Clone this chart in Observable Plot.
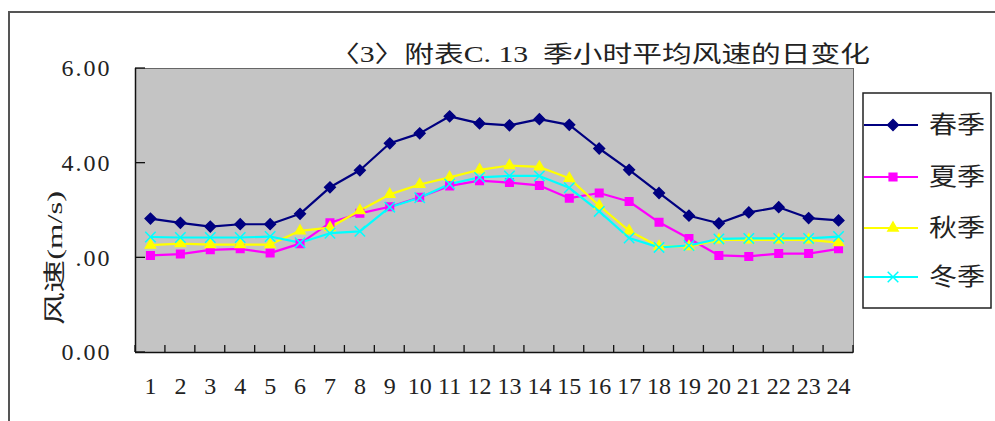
<!DOCTYPE html>
<html><head><meta charset="utf-8">
<script src="https://cdn.jsdelivr.net/npm/d3@7"></script>
<script src="https://cdn.jsdelivr.net/npm/@observablehq/plot@0.6"></script>
<style>
html,body{margin:0;padding:0;background:#fff;}
#chart{position:relative;width:995px;height:421px;}
</style>
</head><body>
<div id="chart"></div>
<script>
const hours = [1,2,3,4,5,6,7,8,9,10,11,12,13,14,15,16,17,18,19,20,21,22,23,24];
const seriesNames = ["春季","夏季","秋季","冬季"];
const spring = [2.83,2.74,2.66,2.71,2.71,2.93,3.49,3.85,4.42,4.63,4.99,4.84,4.80,4.93,4.81,4.31,3.86,3.37,2.89,2.73,2.96,3.07,2.84,2.79];
const summer = [2.05,2.08,2.17,2.19,2.10,2.30,2.74,2.94,3.08,3.28,3.52,3.63,3.59,3.53,3.26,3.37,3.19,2.75,2.41,2.05,2.03,2.09,2.09,2.19];
const autumn = [2.27,2.30,2.28,2.28,2.28,2.57,2.64,3.00,3.34,3.55,3.70,3.86,3.95,3.92,3.68,3.10,2.57,2.24,2.24,2.38,2.38,2.38,2.38,2.32];
const winter = [2.44,2.43,2.43,2.43,2.45,2.32,2.52,2.56,3.07,3.27,3.56,3.70,3.73,3.73,3.48,2.98,2.42,2.22,2.26,2.40,2.41,2.41,2.41,2.45];
const yTicks = [0,2,4,6];
const titleText = "〈3〉附表C. 13  季小时平均风速的日变化";
const yLabel = "风速(m/s)";

const colors = {"春季":"#000080","夏季":"#ff00ff","秋季":"#ffff00","冬季":"#00ffff"};
const symbols = {"春季":"diamond2","夏季":"square2","秋季":"triangle2","冬季":"times"};
const seriesValues = [spring, summer, autumn, winter];
const rows = [];
seriesNames.forEach((s,i)=>hours.forEach((h,j)=>rows.push({series:s, hour:h, value:seriesValues[i][j]})));
const boundaries = [0.5, ...hours.map(h=>h+0.5)];

const FONT = "'Liberation Serif','Noto Sans CJK SC',serif";

const chart = Plot.plot({
  width: 995, height: 421,
  marginLeft: 135, marginRight: 142, marginTop: 68, marginBottom: 69,
  style: {fontFamily: FONT, fontSize: "22px", background: "white", color: "#222", overflow: "visible"},
  x: {domain: [0.5, 24.5]},
  y: {domain: [0, 6]},
  color: {domain: seriesNames, range: seriesNames.map(s=>colors[s])},
  symbol: {domain: seriesNames, range: seriesNames.map(s=>symbols[s])},
  marks: [
    Plot.frame({fill: "#c4c4c4", stroke: "#666"}),
    Plot.axisY({ticks: yTicks, tickFormat: d=>d.toFixed(2), tickSize: 0, tickPadding: 24, fontSize: 24, label: null, className: "ylab"}),
    Plot.axisX({ticks: hours, tickFormat: d=>String(d), tickSize: 0, tickPadding: 24, fontSize: 24, label: null}),
    Plot.ruleX([0.5], {stroke: "#111", strokeWidth: 1.5}),
    Plot.ruleY([0], {stroke: "#111", strokeWidth: 1.5}),
    Plot.lineY(rows, {x: "hour", y: "value", z: "series", stroke: "series", strokeWidth: 2.2}),
    Plot.dot(rows, {x: "hour", y: "value", symbol: "series", fill: "series", stroke: "series", r: 4.8, strokeWidth: 1.5})
  ]
});
document.getElementById("chart").appendChild(chart);

const svg = d3.select(chart);
svg.selectAll(".ylab text").style("letter-spacing","2px");
const xs = chart.scale("x"), ys = chart.scale("y");
const x0 = xs.apply(0.5), y0 = ys.apply(0);
// inward tick marks on the x axis at category boundaries
boundaries.forEach(b=>{
  const px = xs.apply(b);
  svg.append("line").attr("x1",px).attr("x2",px).attr("y1",y0).attr("y2",y0-7).attr("stroke","#111").attr("stroke-width",1.3);
});
// inward tick marks on the y axis
yTicks.forEach(t=>{
  const py = ys.apply(t);
  svg.append("line").attr("x1",x0).attr("x2",x0+10).attr("y1",py).attr("y2",py).attr("stroke","#111").attr("stroke-width",1.3);
});
// outer border
svg.append("path").attr("d","M9,421V12H995").attr("fill","none").attr("stroke","#555").attr("stroke-width",2);
// title
svg.append("text").attr("x",330).attr("y",62).attr("text-anchor","start")
  .attr("textLength",540).attr("lengthAdjust","spacingAndGlyphs")
  .style("font-family",FONT).style("font-size","23px").attr("fill","#222").text(titleText);
// y label with white background
const lg = svg.append("g").attr("transform","translate(54,258) rotate(-90)");
lg.append("rect").attr("x",-68).attr("y",-15).attr("width",136).attr("height",36).attr("fill","white");
lg.append("text").attr("x",-67).attr("dy","0.35em").attr("text-anchor","start")
  .attr("textLength",134).attr("lengthAdjust","spacingAndGlyphs")
  .style("font-family",FONT).style("font-size","22px").attr("fill","#222").text(yLabel);
// legend
const leg = svg.append("g");
leg.append("rect").attr("x",863).attr("y",93).attr("width",128).attr("height",215)
  .attr("fill","white").attr("stroke","#222").attr("stroke-width",1.5);
const legY = [125,177,228,277];
const symMap = {"春季":d3.symbolDiamond2,"夏季":d3.symbolSquare2,"秋季":d3.symbolTriangle2,"冬季":d3.symbolTimes};
seriesNames.forEach((s,i)=>{
  const y = legY[i];
  leg.append("line").attr("x1",864).attr("x2",918).attr("y1",y).attr("y2",y).attr("stroke",colors[s]).attr("stroke-width",2);
  leg.append("path").attr("transform",`translate(893,${y})`).attr("d",d3.symbol(symMap[s],75)())
    .attr("fill",colors[s]).attr("stroke",colors[s]).attr("stroke-width",1.5);
  leg.append("text").attr("x",929).attr("y",y).attr("dy","0.35em").attr("text-anchor","start")
    .attr("textLength",56).attr("lengthAdjust","spacingAndGlyphs")
    .style("font-family",FONT).style("font-size","24px").attr("fill","#222").text(s);
});
</script>
</body></html>
